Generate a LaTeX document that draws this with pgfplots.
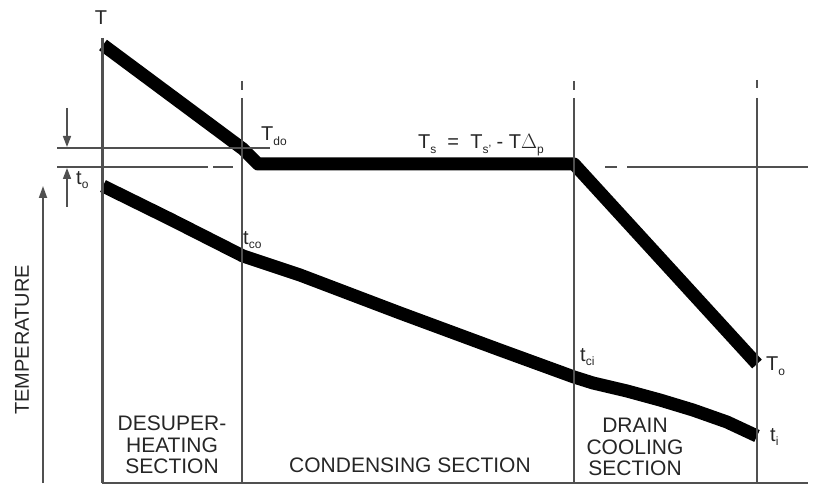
\documentclass[border=0pt]{standalone}
\usepackage{pgfplots}
\pgfplotsset{compat=1.18}
\usepackage{fontspec}
\setmainfont{Liberation Sans}
\usetikzlibrary{arrows.meta}
\definecolor{ink}{HTML}{262626}
\definecolor{guide}{HTML}{505050}
\begin{document}
\begin{tikzpicture}
\begin{axis}[width=817pt,height=486pt,scale only axis,
  xmin=0,xmax=817,ymin=0,ymax=486,y dir=reverse,
  hide axis,clip=false]
% shell-side (steam / drain) temperature
\addplot[black,line width=13pt,line join=round] coordinates {
 (103,45) (243,149) (258,164) (574,164) (757,364)};
% tube-side (feedwater) temperature
\addplot[black,line width=13pt,line join=round,line cap=butt] coordinates {
 (103,186) (170,219) (243,256) (300,275) (400,313) (500,350) (574,377)
 (593,383) (627,391) (660,400) (693,410) (727,422) (757,436)};
% section boundaries
\addplot[guide,line width=3pt] coordinates {(102,38) (102,483)};
\addplot[guide,line width=2pt] coordinates {(242,98) (242,483)};
\addplot[guide,line width=2pt] coordinates {(242,81) (242,90)};
\addplot[guide,line width=2pt] coordinates {(574,98) (574,483)};
\addplot[guide,line width=2pt] coordinates {(574,81) (574,90)};
\addplot[guide,line width=2pt] coordinates {(757,98) (757,483)};
\addplot[guide,line width=2pt] coordinates {(757,80) (757,88)};
% base line
\addplot[guide,line width=2.5pt] coordinates {(102,483) (808,483)};
% reference lines
\addplot[guide,line width=1.6pt] coordinates {(57,148) (270,148)};
\addplot[guide,line width=1.6pt] coordinates {(57,167) (208,167)};
\addplot[guide,line width=1.6pt] coordinates {(213,167) (233,167)};
\addplot[guide,line width=1.6pt] coordinates {(605,167) (617,167)};
\addplot[guide,line width=1.6pt] coordinates {(627,167) (808,167)};
% arrows
\draw[guide,line width=1.6pt,-{Triangle[length=11pt,width=8pt]}] (axis cs:67,108) -- (axis cs:67,147);
\draw[guide,line width=1.6pt,-{Triangle[length=11pt,width=8pt]}] (axis cs:67,207) -- (axis cs:67,168);
\draw[guide,line width=1.8pt,-{Triangle[length=12pt,width=8pt]}] (axis cs:43,483) -- (axis cs:43,186);
% labels
\begin{scope}[every node/.style={text=ink,inner sep=0pt}]
\node[font=\fontsize{20}{22}\selectfont] at (axis cs:101,18) {T};
\node[anchor=west,font=\fontsize{20}{22}\selectfont] at (axis cs:261,136) {T\raisebox{-0.45ex}{\fontsize{12}{12}\selectfont do}};
\node[font=\fontsize{20}{22}\selectfont] at (axis cs:481,145) {T\raisebox{-0.45ex}{\fontsize{12}{12}\selectfont s}\ \ =\ \ T\raisebox{-0.45ex}{\fontsize{12}{12}\selectfont s'}\ - T$\Delta$\raisebox{-0.45ex}{\fontsize{12}{12}\selectfont p}};
\node[anchor=west,font=\fontsize{20}{22}\selectfont] at (axis cs:76,180) {t\raisebox{-0.45ex}{\fontsize{12}{12}\selectfont o}};
\node[anchor=west,font=\fontsize{20}{22}\selectfont] at (axis cs:243,240) {t\raisebox{-0.45ex}{\fontsize{12}{12}\selectfont co}};
\node[anchor=west,font=\fontsize{20}{22}\selectfont] at (axis cs:580,357) {t\raisebox{-0.45ex}{\fontsize{12}{12}\selectfont ci}};
\node[anchor=west,font=\fontsize{20}{22}\selectfont] at (axis cs:766,366) {T\raisebox{-0.45ex}{\fontsize{12}{12}\selectfont o}};
\node[anchor=west,font=\fontsize{20}{22}\selectfont] at (axis cs:770,437) {t\raisebox{-0.45ex}{\fontsize{12}{12}\selectfont i}};
\node[rotate=90,font=\fontsize{20}{22}\selectfont] at (axis cs:22,340) {TEMPERATURE};
\node[align=center,font=\fontsize{21}{21.5}\selectfont] at (axis cs:172,445) {DESUPER-\\HEATING\\SECTION};
\node[font=\fontsize{21}{22}\selectfont] at (axis cs:410,465) {CONDENSING SECTION};
\node[align=center,font=\fontsize{21}{21.5}\selectfont] at (axis cs:635,447) {DRAIN\\COOLING\\SECTION};
\end{scope}
\end{axis}
\path (current axis.south west) rectangle (current axis.north east);
\end{tikzpicture}
\end{document}
